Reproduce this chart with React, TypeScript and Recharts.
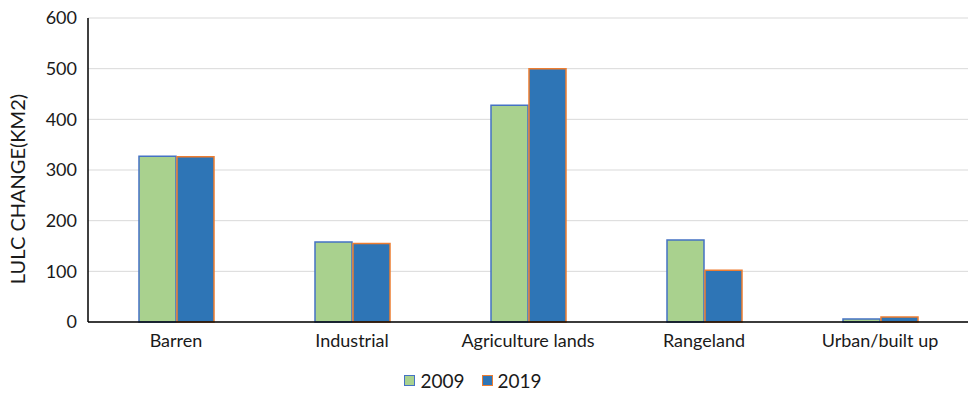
import { BarChart, Bar, XAxis, YAxis, CartesianGrid } from 'recharts'

const categories = ['Barren', 'Industrial', 'Agriculture lands', 'Rangeland', 'Urban/built up']
const values2009 = [327, 158, 428, 162, 6]
const values2019 = [326, 155, 500, 102, 10]
const seriesNames = ['2009', '2019']
const yTicks = [0, 100, 200, 300, 400, 500, 600]

const FILLS = ['#a9d18e', '#2e75b6']
const STROKES = ['#4472c4', '#ed7d31']
const FONT = 'Lato, "Open Sans", sans-serif'
const FS = 18

const data = categories.map((name, i) => ({
  name,
  v2009: values2009[i],
  v2019: values2019[i],
}))

// y axis title, placed like the original
function YTitle() {
  return (
    <text
      x={17}
      y={189}
      transform="rotate(-90, 17, 189)"
      textAnchor="middle"
      dominantBaseline="central"
      fill="#1a1a1a"
      fontSize={20}
      fontFamily={FONT}
    >
      LULC CHANGE(KM2)
    </text>
  )
}

export default function App() {
  return (
    <div style={{ position: 'absolute', left: 0, top: 0, width: 970, height: 395, background: '#fff', fontFamily: FONT }}>
      <BarChart
        width={970}
        height={395}
        data={data}
        margin={{ top: 18, right: 2, left: 0, bottom: 43 }}
        barGap={1}
        barSize={37}
      >
        <CartesianGrid vertical={false} stroke="#d9d9d9" strokeWidth={1} />
        <XAxis
          dataKey="name"
          height={30}
          tickLine={false}
          axisLine={{ stroke: '#000', strokeWidth: 1.5 }}
          tick={{ fill: '#1a1a1a', fontSize: FS, fontFamily: FONT }}
          tickMargin={6}
        />
        <YAxis
          width={88}
          domain={[0, 600]}
          ticks={yTicks}
          tickLine={false}
          tickSize={0}
          tickMargin={11}
          axisLine={{ stroke: '#000', strokeWidth: 1.5 }}
          tick={{ fill: '#1a1a1a', fontSize: FS, fontFamily: FONT }}
          label={{ content: () => <YTitle /> }}
        />
        <Bar dataKey="v2009" name={seriesNames[0]} fill={FILLS[0]} stroke={STROKES[0]} strokeWidth={1.5} isAnimationActive={false} />
        <Bar dataKey="v2019" name={seriesNames[1]} fill={FILLS[1]} stroke={STROKES[1]} strokeWidth={1.5} isAnimationActive={false} />
      </BarChart>
      {/* legend */}
      <div
        style={{
          position: 'absolute',
          top: 369,
          left: 0,
          width: 946,
          display: 'flex',
          justifyContent: 'center',
          gap: 17,
          fontSize: 19,
          color: '#1a1a1a',
        }}
      >
        {seriesNames.map((s, i) => (
          <div key={s} style={{ display: 'flex', alignItems: 'center', gap: 5 }}>
            <div
              style={{
                width: 9,
                height: 9,
                background: FILLS[i],
                border: `1.5px solid ${STROKES[i]}`,
              }}
            />
            <span>{s}</span>
          </div>
        ))}
      </div>
    </div>
  )
}
